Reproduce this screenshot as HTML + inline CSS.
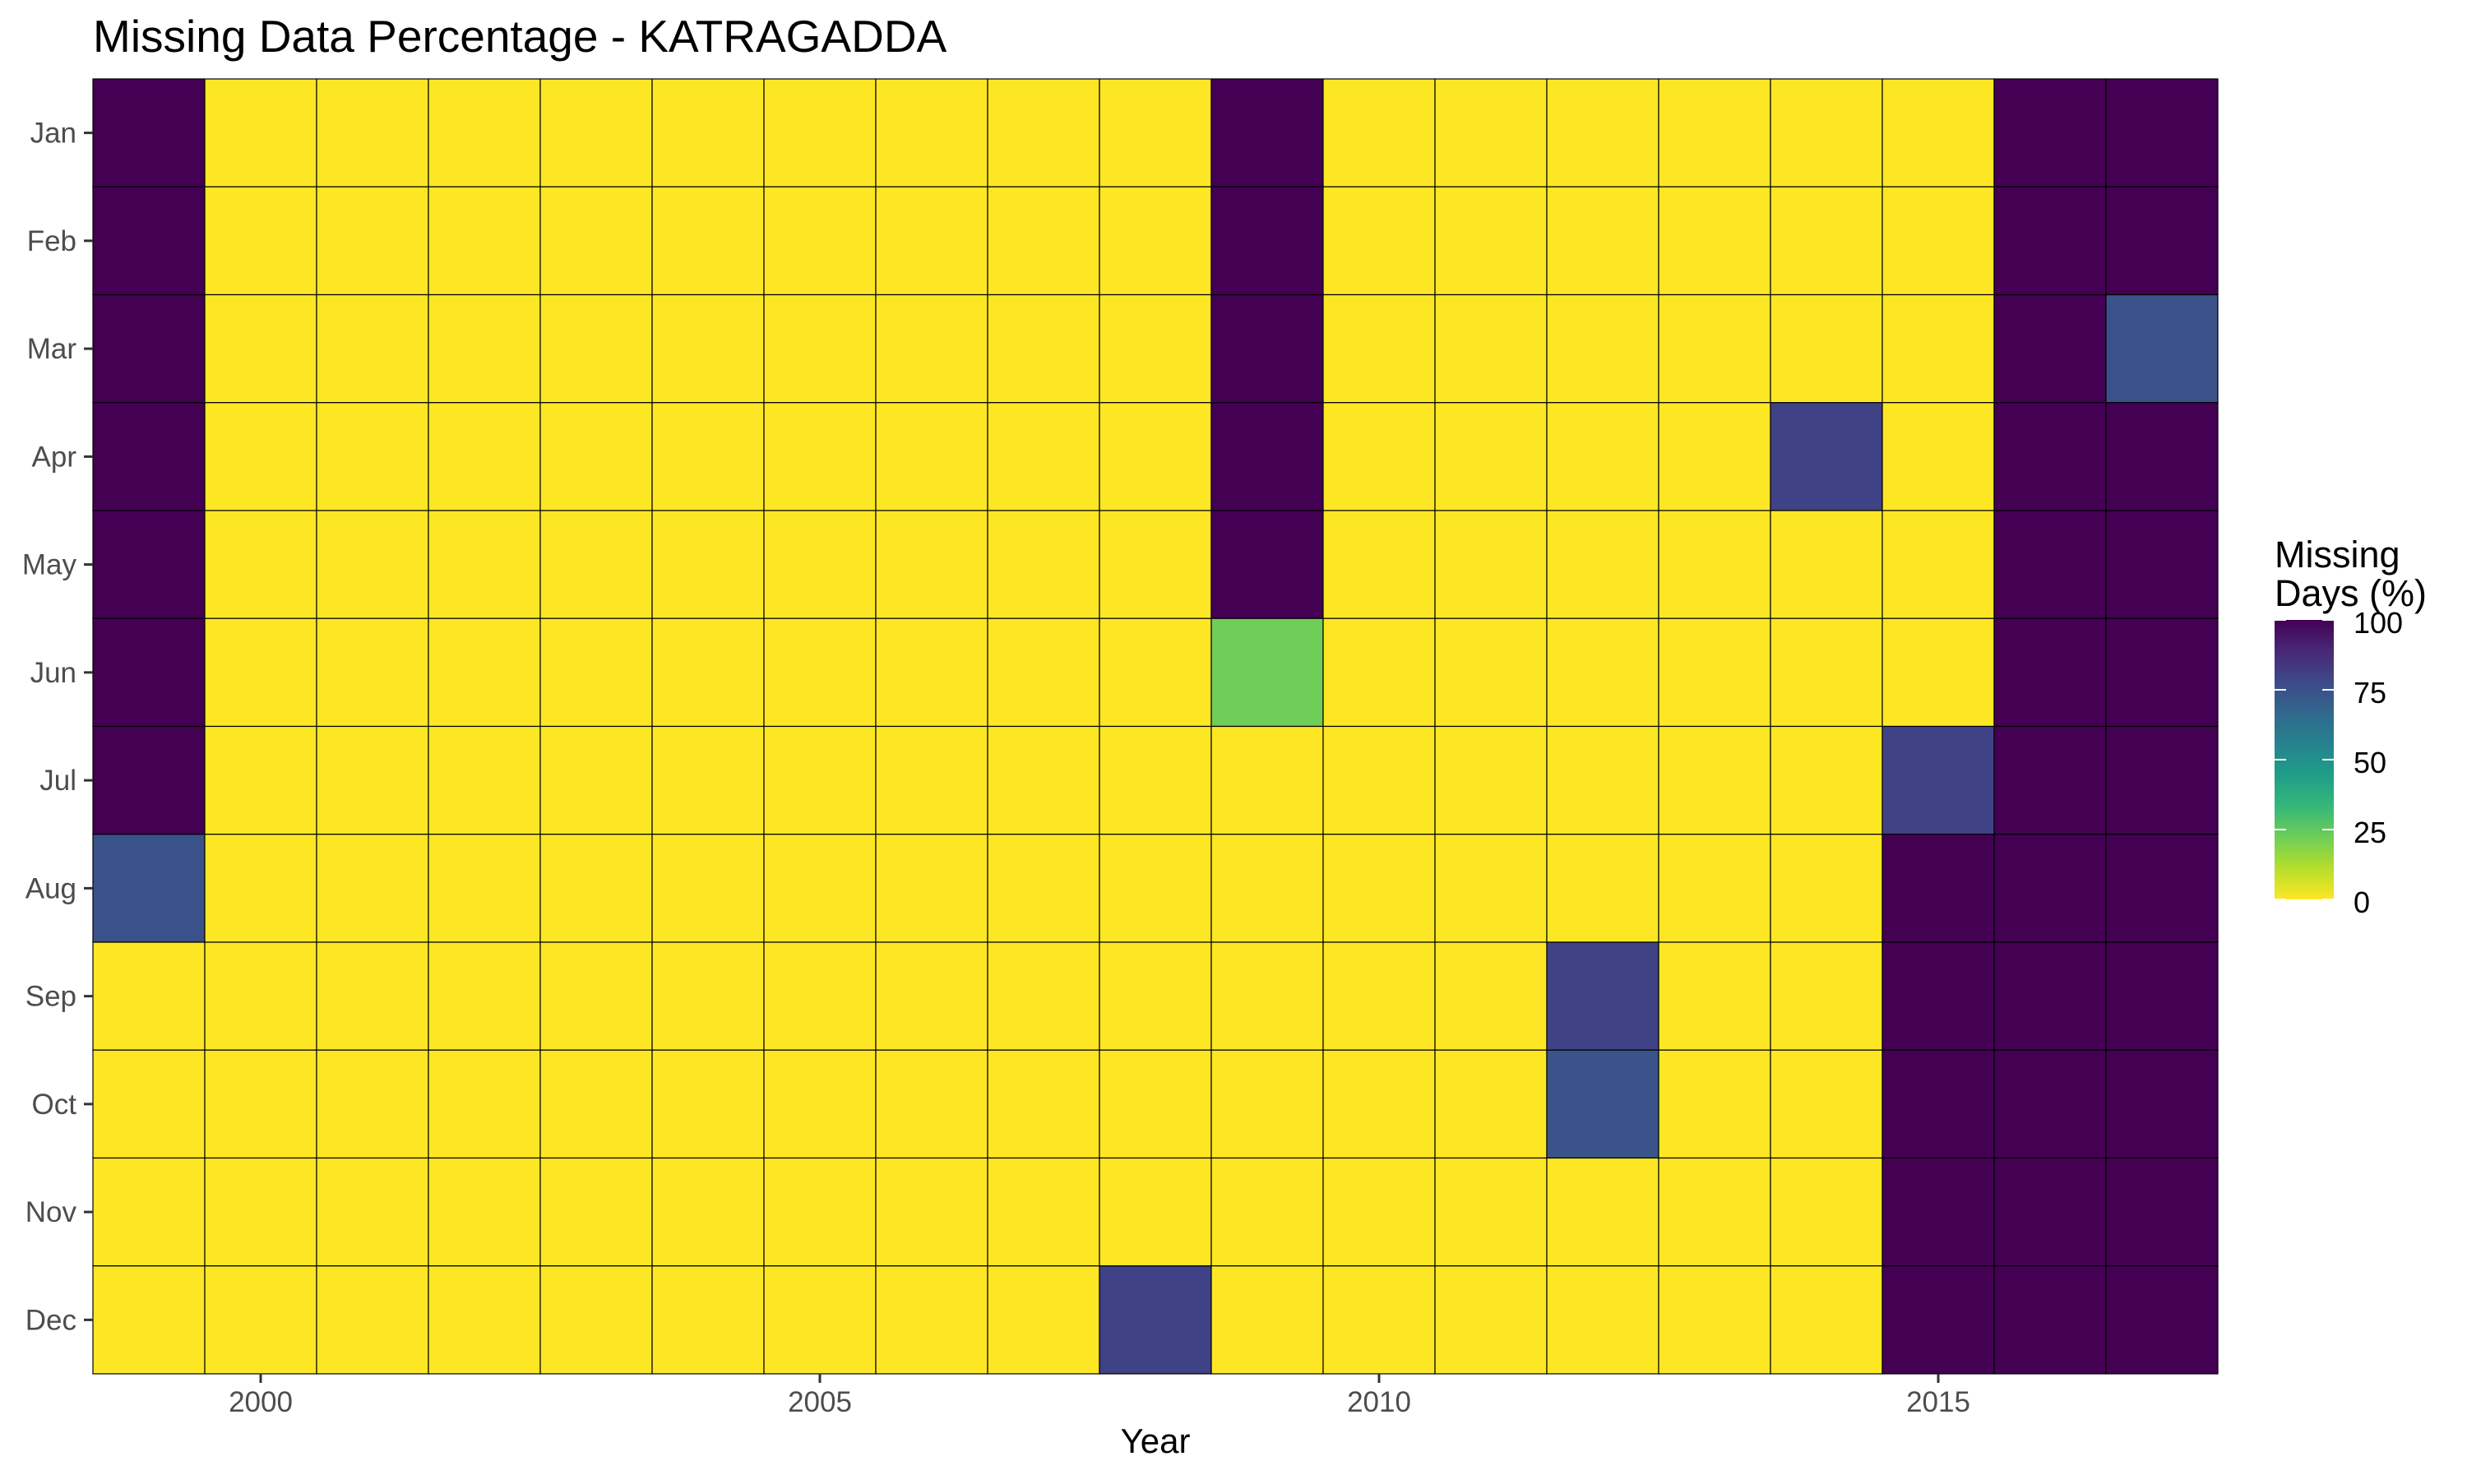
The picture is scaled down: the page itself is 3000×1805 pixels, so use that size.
<!DOCTYPE html>
<html><head><meta charset="utf-8">
<style>
html,body{margin:0;padding:0;background:#fff;}
svg text{font-family:"Liberation Sans",Arial,sans-serif;}
</style></head>
<body>
<svg id="chart" width="3000" height="1800" viewBox="0 0 3000 1800" xmlns="http://www.w3.org/2000/svg">
<text x="113" y="63" font-size="55" fill="#000">Missing Data Percentage - KATRAGADDA</text>
<g id="cells"></g>
<g id="axes"></g>
<text x="1405" y="1767" font-size="42" text-anchor="middle" fill="#000">Year</text>
<text x="2766" y="690" font-size="45" fill="#000">Missing</text>
<text x="2766" y="737" font-size="45" fill="#000">Days (%)</text>
<defs>
<linearGradient id="vir" x1="0" y1="1" x2="0" y2="0">
<stop offset="0" stop-color="#fde725"/><stop offset="0.1111" stop-color="#b5de2b"/><stop offset="0.2222" stop-color="#6ece58"/><stop offset="0.3333" stop-color="#35b779"/><stop offset="0.4444" stop-color="#1f9e89"/><stop offset="0.5556" stop-color="#26828e"/><stop offset="0.6667" stop-color="#31688e"/><stop offset="0.7778" stop-color="#3e4989"/><stop offset="0.8889" stop-color="#482878"/><stop offset="1" stop-color="#440154"/>
</linearGradient>
</defs>
<rect x="2766" y="754" width="72" height="340" fill="url(#vir)"/>
<g id="legend"></g>
</svg>
<script>
const years = [1999,2000,2001,2002,2003,2004,2005,2006,2007,2008,2009,2010,2011,2012,2013,2014,2015,2016,2017];
const months = ["Jan","Feb","Mar","Apr","May","Jun","Jul","Aug","Sep","Oct","Nov","Dec"];
const xTicks = [2000,2005,2010,2015];
const legendTicks = [0,25,50,75,100];
const v1999 = [100,100,100,100,100,100,100,75,0,0,0,0];
const v2008 = [0,0,0,0,0,0,0,0,0,0,0,80];
const v2009 = [100,100,100,100,100,22,0,0,0,0,0,0];
const v2012 = [0,0,0,0,0,0,0,0,80,74,0,0];
const v2014 = [0,0,0,80,0,0,0,0,0,0,0,0];
const v2015 = [0,0,0,0,0,0,80,100,100,100,100,100];
const v2016 = [100,100,100,100,100,100,100,100,100,100,100,100];
const v2017 = [100,100,75,100,100,100,100,100,100,100,100,100];
const zero = [0,0,0,0,0,0,0,0,0,0,0,0];
const missing = {1999:v1999,2008:v2008,2009:v2009,2012:v2012,2014:v2014,2015:v2015,2016:v2016,2017:v2017};

const NS="http://www.w3.org/2000/svg";
const L=113,R=2697,T=96,B=1671;
const cw=(R-L)/years.length, ch=(B-T)/months.length;
const xPos=y=>L+(y-years[0])*cw;
const yPos=i=>T+i*ch;
const stops=[[253,231,37],[181,222,43],[110,206,88],[53,183,121],[31,158,137],[38,130,142],[49,104,142],[62,73,137],[72,40,120],[68,1,84]];
function vir(v){let t=Math.max(0,Math.min(1,v/100))*9;let i=Math.min(8,Math.floor(t));let f=t-i;const a=stops[i],b=stops[i+1];return `rgb(${a.map((c,k)=>Math.round(c+(b[k]-c)*f)).join(",")})`;}
function mk(tag,at,par){const e=document.createElementNS(NS,tag);for(const k in at)e.setAttribute(k,at[k]);par.appendChild(e);return e;}
const cells=document.getElementById('cells');
years.forEach(yr=>{const vals=missing[yr]||zero;
 months.forEach((m,i)=>{
  const r=mk('rect',{x:xPos(yr),y:yPos(i),width:cw,height:ch,fill:vir(vals[i]),stroke:'#000','stroke-width':1.2},cells);
  
  
 });});
const ax=document.getElementById('axes');
months.forEach((m,i)=>{const cy=yPos(i)+ch/2;
 mk('line',{x1:L-11,x2:L,y1:cy,y2:cy,stroke:'#333','stroke-width':3},ax);
 const t=mk('text',{x:L-20,y:cy+12,'font-size':35,fill:'#4d4d4d','text-anchor':'end'},ax);t.textContent=m;
 
 
});
xTicks.forEach(y=>{const cx=xPos(y)+cw/2;
 mk('line',{x1:cx,x2:cx,y1:B,y2:B+11,stroke:'#333','stroke-width':3},ax);
 const t=mk('text',{x:cx,y:B+46,'font-size':35,fill:'#4d4d4d','text-anchor':'middle'},ax);t.textContent=y;
 
 
});
const lg=document.getElementById('legend');
legendTicks.forEach(v=>{const yy=1094-v/100*340;
 mk('line',{x1:2766,x2:2780,y1:yy,y2:yy,stroke:'#fff','stroke-width':2},lg);
 mk('line',{x1:2824,x2:2838,y1:yy,y2:yy,stroke:'#fff','stroke-width':2},lg);
 const t=mk('text',{x:2862,y:yy+16,'font-size':36,fill:'#000'},lg);t.textContent=v;
 
 
});
</script>
</body></html>
